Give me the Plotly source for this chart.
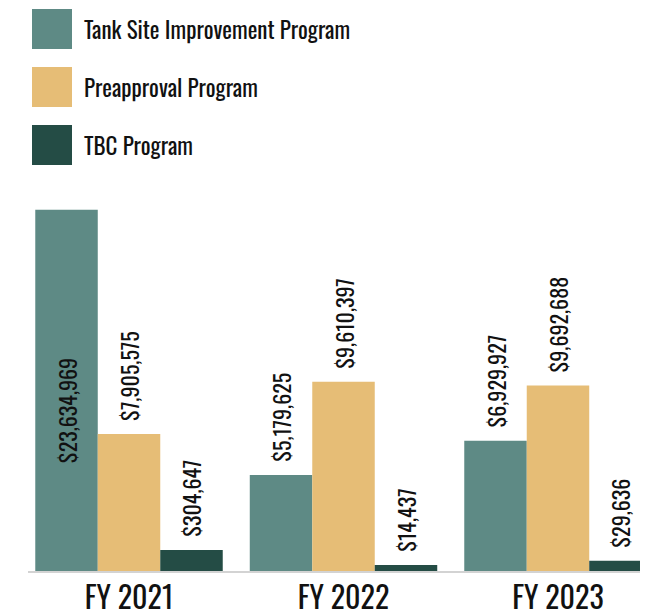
import plotly.graph_objects as go

# ---- data ----
categories = ["FY 2021", "FY 2022", "FY 2023"]
series_names = ["Tank Site Improvement Program", "Preapproval Program", "TBC Program"]
# dollar amounts printed on the bars
tank_site_values = [23634969, 5179625, 6929927]
preapproval_values = [7905575, 9610397, 9692688]
tbc_values = [304647, 14437, 29636]
# apparent bar heights in the picture ($ millions; the original graphic is not drawn to scale)
tank_site_heights = [18.35, 4.88, 6.62]
preapproval_heights = [6.96, 9.61, 9.42]
tbc_heights = [1.07, 0.31, 0.52]

colors = ["#5E8A85", "#E6BD76", "#244C45"]
FONT = "Oswald, Roboto Condensed, sans-serif"
NB = "\u00a0"

# the page body has an 8px margin, so the figure is placed at (8, 8) in the window
OFF = 8
W, H = 648 - OFF, 613 - OFF
ML, MR, MT, MB = 28 - OFF, 0, 197 - OFF, 613 - 571
PW, PH = W - ML - MR, H - MT - MB


def px_x(x):  # window pixel -> paper
    return (x - OFF - ML) / PW


def px_y(y):
    return (H - MB - (y - OFF)) / PH


def fmt(v):
    return f"${v:,}"


fig = go.Figure()
all_vals = [tank_site_values, preapproval_values, tbc_values]
all_h = [tank_site_heights, preapproval_heights, tbc_heights]
for name, vals, hts, col in zip(series_names, all_vals, all_h, colors):
    texts, pos = [], []
    for v, h in zip(vals, hts):
        if h > 15:
            texts.append(fmt(v) + NB * 8)
            pos.append("inside")
        else:
            texts.append(NB * 2 + fmt(v))
            pos.append("outside")
    fig.add_trace(go.Bar(
        x=categories, y=hts, name=name, marker=dict(color=col, line=dict(width=0)),
        text=texts, textposition=pos, textangle=-90, insidetextanchor="middle",
        textfont=dict(family=FONT, size=22, color="#111111"),
        insidetextfont=dict(family=FONT, size=22, color="#111111"),
        outsidetextfont=dict(family=FONT, size=22, color="#111111"),
        constraintext="none", cliponaxis=False, showlegend=False,
        hoverinfo="skip",
    ))

# legend drawn as large squares + text
shapes, annotations = [], []
legend_tops = [9, 67, 125]
for name, col, top in zip(series_names, colors, legend_tops):
    shapes.append(dict(type="rect", xref="paper", yref="paper",
                       x0=px_x(32), x1=px_x(72), y0=px_y(top + 40), y1=px_y(top),
                       fillcolor=col, line=dict(width=0), layer="above"))
    annotations.append(dict(xref="paper", yref="paper", x=px_x(82), y=px_y(top + 20),
                            xanchor="left", yanchor="middle", showarrow=False, text=name,
                            font=dict(family=FONT, size=23, color="#111111")))

fig.update_layout(
    width=W, height=H,
    margin=dict(l=ML, r=MR, t=MT, b=MB, pad=0, autoexpand=False),
    paper_bgcolor="white", plot_bgcolor="white",
    barmode="group", bargap=0.126, bargroupgap=0,
    shapes=shapes, annotations=annotations,
    showlegend=False,
    xaxis=dict(range=[-0.4709, 2.4196], showline=True, linecolor="#D3D3D3", linewidth=2,
               showgrid=False, zeroline=False, ticks="", automargin=False,
               tickfont=dict(family=FONT, size=30, color="#111111"), fixedrange=True),
    yaxis=dict(range=[0, 19.0], visible=False, fixedrange=True, automargin=False),
)

fig.write_html("out.html")
